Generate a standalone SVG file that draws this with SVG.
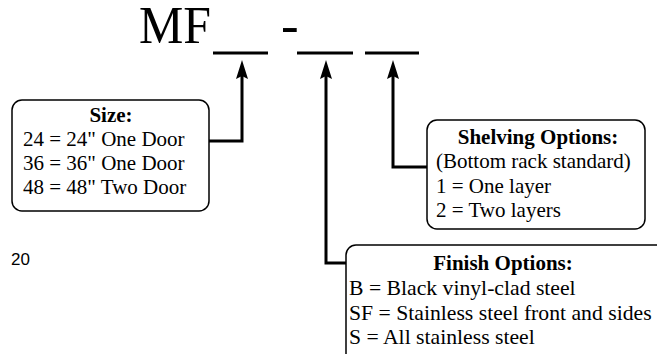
<svg xmlns="http://www.w3.org/2000/svg" width="657" height="354" viewBox="0 0 657 354">
<defs>
<style>
.t{font-family:"Liberation Serif","Times New Roman",serif;font-size:21px;fill:#000}
.b{font-weight:bold}
.f{font-size:21.7px}
.big{font-family:"Liberation Serif","Times New Roman",serif;font-size:53px;fill:#000}
.box{fill:#fff;stroke:#000;stroke-width:1.5}
.conn{fill:none;stroke:#000;stroke-width:3}
.ul{stroke:#000;stroke-width:3}
</style>
<marker id="ah" viewBox="0 0 19 12" refX="7" refY="6" markerWidth="19" markerHeight="12" markerUnits="userSpaceOnUse" orient="auto">
<path d="M19 6 L0 0 L3 6 L0 12 Z" fill="#000"/>
</marker>
</defs>
<rect width="657" height="354" fill="#fff"/>
<g id="title">
<text class="big" x="139" y="43" textLength="72" lengthAdjust="spacingAndGlyphs">MF</text>
<text class="big" x="281" y="43">-</text>
<line class="ul" x1="213" y1="53" x2="268" y2="53"/>
<line class="ul" x1="297" y1="53" x2="353" y2="53"/>
<line class="ul" x1="365" y1="53" x2="419" y2="53"/>
</g>
<g id="connectors">
<path class="conn" d="M209 141 H242 V72" marker-end="url(#ah)"/>
<path class="conn" d="M346 263 H326 V72" marker-end="url(#ah)"/>
<path class="conn" d="M427 167 H393 V72" marker-end="url(#ah)"/>
</g>
<g id="size">
<rect class="box" x="12" y="100" width="197" height="111" rx="10"/>
<text class="t b" x="111" y="122" text-anchor="middle">Size:</text>
<text class="t" x="23" y="146">24 = 24" One Door</text>
<text class="t" x="23" y="170">36 = 36" One Door</text>
<text class="t" x="23" y="194">48 = 48" Two Door</text>
</g>
<g id="shelving">
<rect class="box" x="427" y="120" width="218" height="109" rx="10"/>
<text class="t b" x="538" y="144" text-anchor="middle">Shelving Options:</text>
<text class="t" x="436" y="168">(Bottom rack standard)</text>
<text class="t" x="436" y="193">1 = One layer</text>
<text class="t" x="436" y="217">2 = Two layers</text>
</g>
<g id="finish">
<rect class="box" x="346" y="245" width="320" height="120" rx="10"/>
<text class="t b" x="503" y="270" text-anchor="middle">Finish Options:</text>
<text class="t f" x="349" y="295">B = Black vinyl-clad steel</text>
<text class="t f" x="349" y="320">SF = Stainless steel front and sides</text>
<text class="t f" x="349" y="344">S = All stainless steel</text>
</g>
<text x="11" y="265" style="font-family:'Liberation Sans',Arial,sans-serif;font-size:17px">20</text>
</svg>
